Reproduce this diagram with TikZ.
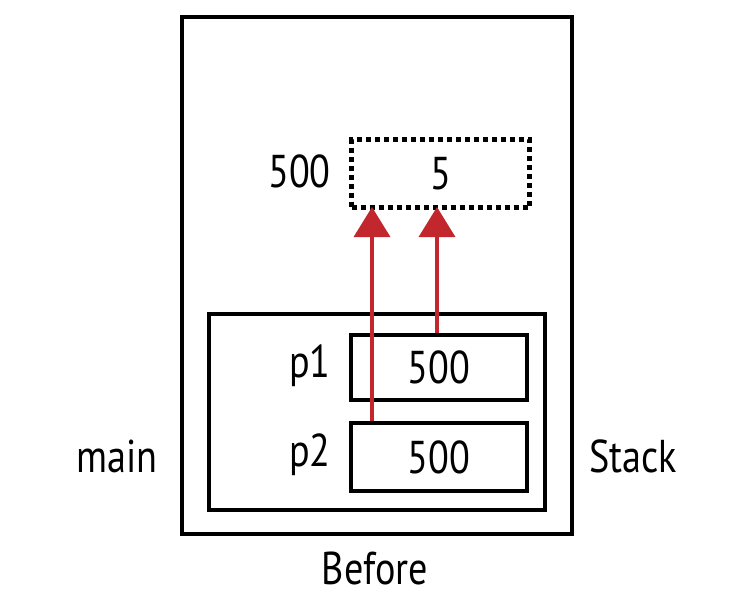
\documentclass[tikz,border=0pt]{standalone}
\usepackage{fontspec}
\setmainfont[FakeStretch=0.83]{PT Sans}
\usetikzlibrary{arrows.meta}
\definecolor{arrred}{HTML}{C1272D}
\tikzset{
  x=1pt, y=-1pt,
  frame/.style={draw=black, line width=3.8pt},
  cell/.style={draw=black, line width=4.2pt},
  dotcell/.style={draw=black, line width=5pt, dash pattern=on 5pt off 4pt},
  lbl/.style={font=\fontsize{46}{46}\selectfont, inner sep=0pt},
  ptr/.style={draw=arrred, line width=3.5pt, -{Triangle[length=30pt, width=36pt]}}
}
\begin{document}
\begin{tikzpicture}
\useasboundingbox (0,0) rectangle (748,616);
% outer frame
\node[frame, minimum width=390pt, minimum height=517pt, anchor=north west, inner sep=0pt] (outer) at (180,15) {};
% stack frame
\node[frame, minimum width=336pt, minimum height=196pt, anchor=north west, inner sep=0pt] (stack) at (207,312) {};
% heap cell
\node[dotcell, minimum width=178pt, minimum height=68pt, anchor=north west, inner sep=0pt] (heap) at (349,137) {};
\node[lbl] (heapv) at (heap.center) {5};
\node[lbl, anchor=east] (heapa) at (331,171) {500};
% p1, p2 cells
\node[cell, minimum width=176pt, minimum height=65pt, anchor=north west, inner sep=0pt] (p1) at (349,333) {};
\node[lbl] (p1v) at (p1.center) {500};
\node[lbl, anchor=east] (p1l) at (331,366) {p1};
\node[cell, minimum width=176pt, minimum height=68pt, anchor=north west, inner sep=0pt] (p2) at (349,421) {};
\node[lbl] (p2v) at (p2.center) {500};
\node[lbl, anchor=east] (p2l) at (331,455) {p2};
% side labels
\node[lbl] (main) at (117,456) {main};
\node[lbl] (stk) at (633,456) {Stack};
\node[lbl] (before) at (375,568) {Before};
% pointers
\coordinate (t1) at (372,207);
\coordinate (t2) at (437,207);
\draw[ptr] (p2.north -| t1) -- (t1);
\draw[ptr] (p1.north -| t2) -- (t2);
\end{tikzpicture}
\end{document}
